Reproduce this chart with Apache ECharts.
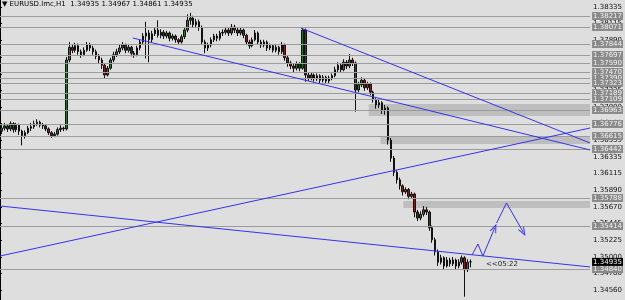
<!DOCTYPE html>
<html>
<head>
<meta charset="utf-8">
<script src="https://cdn.jsdelivr.net/npm/echarts@6/dist/echarts.min.js"></script>
<style>
html, body { margin: 0; padding: 0; background: #dedede; }
#chart { width: 625px; height: 300px; }
</style>
</head>
<body>
<div id="chart"></div>
<script>
// header
const symbolName = 'EURUSD.lmc,H1'
const quote = [1.34935, 1.34967, 1.34861, 1.34935]
const timerText = '<<05:22'

// hourly bars: [open, close, low, high]
const candles = [
  [1.3668, 1.3672, 1.3664, 1.3676], [1.3672, 1.3675, 1.3669, 1.3679], [1.3675, 1.3671, 1.3667, 1.3677],
  [1.3671, 1.3678, 1.3668, 1.3681], [1.3678, 1.3670, 1.3666, 1.3680], [1.3670, 1.3676, 1.3667, 1.3679],
  [1.3676, 1.3668, 1.3663, 1.3678], [1.3668, 1.3662, 1.3649, 1.3670], [1.3662, 1.3666, 1.3658, 1.3669],
  [1.3666, 1.3672, 1.3664, 1.3675], [1.3672, 1.3674, 1.3668, 1.3679], [1.3674, 1.3678, 1.3671, 1.3682],
  [1.3678, 1.3680, 1.3675, 1.3684], [1.3680, 1.3676, 1.3673, 1.3682], [1.3676, 1.3675, 1.3671, 1.3679],
  [1.3675, 1.3671, 1.3668, 1.3677], [1.3671, 1.3666, 1.3663, 1.3673], [1.3666, 1.3662, 1.3659, 1.3668],
  [1.3662, 1.3664, 1.3660, 1.3667], [1.3664, 1.3670, 1.3662, 1.3673], [1.3670, 1.3672, 1.3667, 1.3676],
  [1.3672, 1.3671, 1.3668, 1.3674], [1.3671, 1.3763, 1.3669, 1.3767], [1.3763, 1.3780, 1.3760, 1.3787],
  [1.3780, 1.3776, 1.3772, 1.3784], [1.3776, 1.3782, 1.3773, 1.3786], [1.3782, 1.3774, 1.3770, 1.3785],
  [1.3774, 1.3770, 1.3766, 1.3777], [1.3770, 1.3776, 1.3768, 1.3780], [1.3776, 1.3783, 1.3774, 1.3787],
  [1.3783, 1.3779, 1.3775, 1.3786], [1.3779, 1.3774, 1.3770, 1.3782], [1.3774, 1.3768, 1.3764, 1.3777],
  [1.3768, 1.3763, 1.3759, 1.3771], [1.3763, 1.3756, 1.3751, 1.3766], [1.3756, 1.3743, 1.3739, 1.3759],
  [1.3743, 1.3752, 1.3741, 1.3755], [1.3752, 1.3763, 1.3750, 1.3766], [1.3763, 1.3770, 1.3760, 1.3774],
  [1.3770, 1.3774, 1.3767, 1.3778], [1.3774, 1.3779, 1.3771, 1.3783], [1.3779, 1.3783, 1.3776, 1.3787],
  [1.3783, 1.3776, 1.3772, 1.3785], [1.3776, 1.3780, 1.3773, 1.3784], [1.3780, 1.3772, 1.3768, 1.3782],
  [1.3772, 1.3770, 1.3766, 1.3775], [1.3770, 1.3779, 1.3768, 1.3782], [1.3779, 1.3787, 1.3776, 1.3790],
  [1.3787, 1.3795, 1.3784, 1.3799], [1.3795, 1.3799, 1.3765, 1.3814], [1.3799, 1.3790, 1.3760, 1.3803],
  [1.3790, 1.3798, 1.3787, 1.3802], [1.3798, 1.3803, 1.3795, 1.3807], [1.3803, 1.3796, 1.3793, 1.3816],
  [1.3796, 1.3800, 1.3792, 1.3804], [1.3800, 1.3795, 1.3791, 1.3803], [1.3795, 1.3799, 1.3792, 1.3802],
  [1.3799, 1.3792, 1.3788, 1.3801], [1.3792, 1.3795, 1.3789, 1.3798], [1.3795, 1.3790, 1.3786, 1.3797],
  [1.3790, 1.3787, 1.3783, 1.3792], [1.3787, 1.3794, 1.3785, 1.3797], [1.3794, 1.3803, 1.3791, 1.3806],
  [1.3803, 1.3816, 1.3800, 1.3824], [1.3816, 1.3819, 1.3810, 1.3826], [1.3819, 1.3810, 1.3806, 1.3822],
  [1.3810, 1.3814, 1.3807, 1.3818], [1.3814, 1.3806, 1.3802, 1.3817], [1.3806, 1.3787, 1.3784, 1.3809],
  [1.3787, 1.3779, 1.3772, 1.3790], [1.3779, 1.3783, 1.3775, 1.3786], [1.3783, 1.3790, 1.3780, 1.3793],
  [1.3790, 1.3795, 1.3787, 1.3798], [1.3795, 1.3792, 1.3788, 1.3798], [1.3792, 1.3799, 1.3789, 1.3802],
  [1.3799, 1.3800, 1.3795, 1.3804], [1.3800, 1.3803, 1.3797, 1.3807], [1.3803, 1.3799, 1.3795, 1.3806],
  [1.3799, 1.3807, 1.3796, 1.3811], [1.3807, 1.3803, 1.3799, 1.3810], [1.3803, 1.3799, 1.3795, 1.3806],
  [1.3799, 1.3803, 1.3796, 1.3806], [1.3803, 1.3796, 1.3792, 1.3805], [1.3796, 1.3787, 1.3783, 1.3798],
  [1.3787, 1.3782, 1.3778, 1.3790], [1.3782, 1.3790, 1.3780, 1.3793], [1.3790, 1.3799, 1.3788, 1.3803],
  [1.3799, 1.3787, 1.3784, 1.3801], [1.3787, 1.3783, 1.3779, 1.3790], [1.3783, 1.3787, 1.3780, 1.3790],
  [1.3787, 1.3779, 1.3775, 1.3789], [1.3779, 1.3782, 1.3776, 1.3785], [1.3782, 1.3776, 1.3773, 1.3784],
  [1.3776, 1.3780, 1.3773, 1.3783], [1.3780, 1.3774, 1.3770, 1.3782], [1.3774, 1.3783, 1.3771, 1.3787],
  [1.3783, 1.3766, 1.3762, 1.3785], [1.3766, 1.3759, 1.3754, 1.3769], [1.3759, 1.3755, 1.3751, 1.3762],
  [1.3755, 1.3752, 1.3747, 1.3758], [1.3752, 1.3758, 1.3749, 1.3761], [1.3758, 1.3752, 1.3748, 1.3760],
  [1.3752, 1.3803, 1.3750, 1.3807], [1.3803, 1.3743, 1.3734, 1.3805], [1.3743, 1.3739, 1.3735, 1.3746],
  [1.3739, 1.3743, 1.3736, 1.3746], [1.3743, 1.3738, 1.3734, 1.3745], [1.3738, 1.3742, 1.3735, 1.3745],
  [1.3742, 1.3736, 1.3732, 1.3744], [1.3736, 1.3740, 1.3733, 1.3743], [1.3740, 1.3735, 1.3731, 1.3742],
  [1.3735, 1.3739, 1.3732, 1.3742], [1.3739, 1.3742, 1.3736, 1.3745], [1.3742, 1.3750, 1.3740, 1.3754],
  [1.3750, 1.3756, 1.3747, 1.3760], [1.3756, 1.3750, 1.3746, 1.3759], [1.3750, 1.3760, 1.3748, 1.3764],
  [1.3760, 1.3755, 1.3751, 1.3763], [1.3755, 1.3763, 1.3752, 1.3771], [1.3763, 1.3759, 1.3755, 1.3766],
  [1.3759, 1.3723, 1.3694, 1.3761], [1.3723, 1.3730, 1.3720, 1.3734], [1.3730, 1.3736, 1.3727, 1.3740],
  [1.3736, 1.3726, 1.3722, 1.3739], [1.3726, 1.3731, 1.3723, 1.3734], [1.3731, 1.3720, 1.3716, 1.3733],
  [1.3720, 1.3710, 1.3706, 1.3722], [1.3710, 1.3703, 1.3698, 1.3712], [1.3703, 1.3706, 1.3699, 1.3710],
  [1.3706, 1.3696, 1.3691, 1.3708], [1.3696, 1.3699, 1.3690, 1.3703], [1.3699, 1.3656, 1.3650, 1.3701],
  [1.3656, 1.3632, 1.3627, 1.3659], [1.3632, 1.3613, 1.3608, 1.3635], [1.3613, 1.3603, 1.3598, 1.3616],
  [1.3603, 1.3595, 1.3590, 1.3606], [1.3595, 1.3587, 1.3582, 1.3597], [1.3587, 1.3590, 1.3584, 1.3593],
  [1.3590, 1.3581, 1.3577, 1.3592], [1.3581, 1.3584, 1.3578, 1.3587], [1.3584, 1.3560, 1.3553, 1.3586],
  [1.3560, 1.3552, 1.3548, 1.3563], [1.3552, 1.3557, 1.3549, 1.3561], [1.3557, 1.3563, 1.3554, 1.3568],
  [1.3563, 1.3560, 1.3556, 1.3567], [1.3560, 1.3539, 1.3535, 1.3562], [1.3539, 1.3523, 1.3519, 1.3542],
  [1.3523, 1.3507, 1.3502, 1.3526], [1.3507, 1.3493, 1.3488, 1.3510], [1.3493, 1.3499, 1.3490, 1.3503],
  [1.3499, 1.3488, 1.3484, 1.3501], [1.3488, 1.3496, 1.3486, 1.3500], [1.3496, 1.3491, 1.3487, 1.3499],
  [1.3491, 1.3496, 1.3488, 1.3500], [1.3496, 1.3488, 1.3484, 1.3498], [1.3488, 1.3493, 1.3485, 1.3497],
  [1.3493, 1.3499, 1.3490, 1.3502], [1.3499, 1.3483, 1.3447, 1.3501], [1.3483, 1.3493, 1.3480, 1.3497],
  [1.34935, 1.34935, 1.34861, 1.34967]
]

// price scale labels on the right
const priceTicks = [1.34560, 1.34780, 1.35000, 1.35225, 1.35445, 1.35670, 1.35890, 1.36115, 1.36335,
  1.36555, 1.36780, 1.37000, 1.37225, 1.37445, 1.37670, 1.37890, 1.38115, 1.38335]

// horizontal support / resistance levels
const levels = [1.38217, 1.38071, 1.37844, 1.37697, 1.37590, 1.37470, 1.37390, 1.37323, 1.37189,
  1.37109, 1.36963, 1.36776, 1.36615, 1.36442, 1.35788, 1.35414, 1.34840]

// shaded zones: [start bar, upper price, lower price]
const zones = [[125, 1.37043, 1.36882], [129, 1.36615, 1.36509], [136.7, 1.35748, 1.35654]]

// trend lines: [bar, price] pairs
const trendLines = [
  [[45, 1.37924], [200, 1.36429]],
  [[102, 1.38057], [200, 1.36522]],
  [[0, 1.35013], [200, 1.36722]],
  [[0, 1.35681], [200, 1.34867]]
]

// projected path drawn by hand
const arrowPaths = [
  [[160, 1.35027], [162, 1.35174], [163.67, 1.35013], [167.67, 1.35387]],
  [[168.33, 1.35454], [171.67, 1.35721], [177.33, 1.35334]]
]

const BLUE = '#3434e8'
const arrowHead = 'path://M0,10 L5,0 L10,10 L8.6,10 L5,3.2 L1.4,10 Z'

const chart = echarts.init(document.getElementById('chart'))

// markLine segments for the trend lines and the arrows
const lineSegments = []
trendLines.forEach(l => {
  lineSegments.push([{ coord: l[0] }, { coord: l[1] }])
})
arrowPaths.forEach(p => {
  for (let k = 0; k < p.length - 1; k++) {
    const last = k === p.length - 2
    lineSegments.push([
      { coord: p[k] },
      { coord: p[k + 1], symbol: last ? arrowHead : 'none', symbolSize: [7, 9] }
    ])
  }
})

const option = {
  backgroundColor: '#dedede',
  animation: false,
  grid: { left: 0, right: 24, top: 0, bottom: 0, containLabel: false },
  xAxis: {
    type: 'value',
    min: 0,
    max: 200,
    show: false
  },
  yAxis: {
    type: 'value',
    position: 'right',
    min: 1.34426,
    max: 1.38431,
    splitLine: { show: false },
    axisLine: { show: true, lineStyle: { color: '#000', width: 1 } },
    axisTick: { show: true, customValues: priceTicks, length: 2, lineStyle: { color: '#000' } },
    axisLabel: {
      customValues: priceTicks,
      formatter: v => v.toFixed(5),
      fontSize: 7,
      fontFamily: 'DejaVu Sans',
      color: '#111',
      margin: 3
    }
  },
  graphic: [
    {
      type: 'text',
      left: 2,
      top: 1,
      style: {
        text: '\u25BC ' + symbolName + '  ' + quote.map(q => q.toFixed(5)).join(' '),
        fontSize: 7,
        fontFamily: 'DejaVu Sans',
        fill: '#000'
      }
    },
    {
      type: 'text',
      left: 486,
      top: 261,
      style: { text: timerText, fontSize: 7, fontFamily: 'DejaVu Sans', fill: '#222' }
    }
  ],
  series: [
    {
      // levels and zones behind the bars
      type: 'line',
      data: [],
      z: 1,
      markArea: {
        silent: true,
        itemStyle: { color: '#bebebe' },
        data: zones.map(z => [{ xAxis: z[0], yAxis: z[1] }, { yAxis: z[2] }])
      },
      markLine: {
        silent: true,
        precision: 5,
        symbol: ['none', 'none'],
        lineStyle: { color: '#9c9c9c', width: 1, type: 'solid' },
        label: {
          show: true,
          position: 'end',
          distance: 2,
          formatter: p => p.value.toFixed(5),
          fontSize: 7,
          fontFamily: 'DejaVu Sans',
          color: '#f2f2f2',
          backgroundColor: '#8a8a8a',
          padding: [1, 1, 0, 1]
        },
        data: levels.map(v => ({ yAxis: v }))
      }
    },
    {
      type: 'candlestick',
      z: 2,
      barWidth: 2,
      encode: { x: 0, y: [1, 2, 3, 4] },
      data: candles.map((c, i) => [i + 0.5, c[0], c[1], c[2], c[3]]),
      itemStyle: {
        color: '#2f6f2f',
        color0: '#7a1f1f',
        borderColor: '#111',
        borderColor0: '#111',
        borderWidth: 1
      },
      markLine: {
        silent: true,
        precision: 5,
        z: 5,
        symbol: ['none', 'none'],
        lineStyle: { color: 'rgba(0,0,0,0)', width: 1 },
        label: {
          show: true,
          position: 'end',
          distance: 2,
          formatter: p => p.value.toFixed(5),
          fontSize: 7,
          fontFamily: 'DejaVu Sans',
          color: '#fff',
          backgroundColor: '#000',
          padding: [1, 1, 0, 1]
        },
        data: [{ yAxis: quote[3] }]
      }
    },
    {
      // trend lines and the drawn arrows
      type: 'line',
      data: [],
      z: 3,
      markLine: {
        silent: true,
        precision: 5,
        symbol: ['none', 'none'],
        lineStyle: { color: BLUE, width: 1, type: 'solid' },
        itemStyle: { color: BLUE },
        label: { show: false },
        data: lineSegments
      }
    }
  ]
}

chart.setOption(option)
</script>
</body>
</html>
